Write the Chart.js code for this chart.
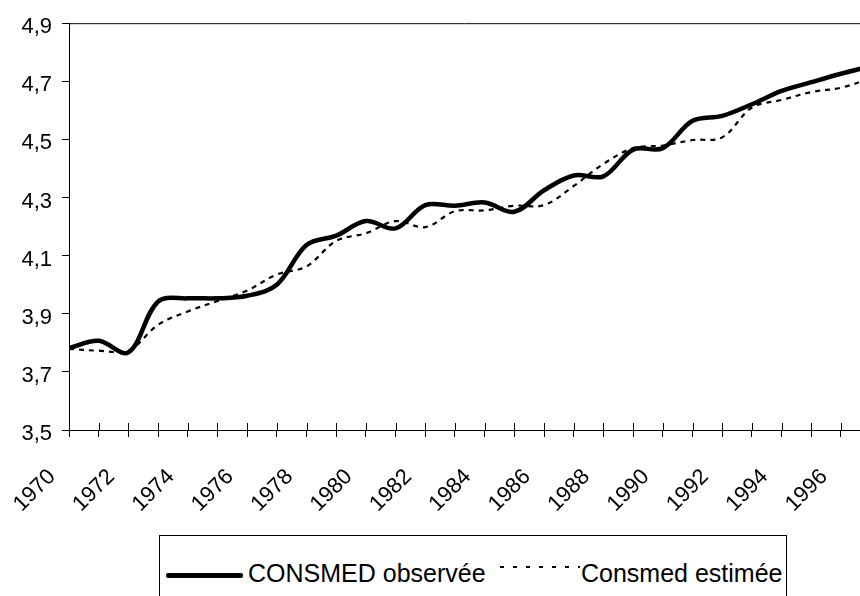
<!DOCTYPE html>
<html>
<head>
<meta charset="utf-8">
<script src="https://cdn.jsdelivr.net/npm/chart.js@4/dist/chart.umd.min.js"></script>
<style>
    html, body { margin: 0; padding: 0; background: #fff; overflow: hidden; }
    #wrap { position: relative; width: 860px; height: 596px; }
    #legend {
        position: absolute; left: 159px; top: 535px; width: 628px; height: 100px;
        box-sizing: border-box; border: 1px solid #000; background: #fff;
        font-family: 'Liberation Sans', Arial, sans-serif; font-size: 25px; color: #000;
    }
    #legend .txt { position: absolute; top: 23px; white-space: nowrap; }
    #legend .solid { position: absolute; left: 6px; top: 37px; width: 77px; height: 5px; background: #000; border-radius: 2px; }
    #legend .dash {
        position: absolute; left: 340px; top: 30px; width: 80px; height: 2px;
        background: repeating-linear-gradient(90deg, #000 0 4px, transparent 4px 13px);
    }
</style>
</head>
<body>
<div id="wrap">
    <canvas id="chart" width="860" height="596"></canvas>
    <div id="legend">
        <div class="solid"></div>
        <div class="txt" style="left: 88px;">CONSMED observée</div>
        <div class="dash"></div>
        <div class="txt" style="left: 421px;">Consmed estimée</div>
    </div>
</div>
<script>
// Years shown on the category axis (last year partly outside the plot)
const years = [1970, 1971, 1972, 1973, 1974, 1975, 1976, 1977, 1978, 1979,
               1980, 1981, 1982, 1983, 1984, 1985, 1986, 1987, 1988, 1989,
               1990, 1991, 1992, 1993, 1994, 1995, 1996, 1997];

// CONSMED observée
const observed = [3.782, 3.807, 3.767, 3.942, 3.953, 3.953, 3.962, 4.000, 4.137, 4.169,
                  4.219, 4.194, 4.274, 4.272, 4.283, 4.251, 4.325, 4.376, 4.373, 4.465,
                  4.470, 4.564, 4.581, 4.621, 4.667, 4.697, 4.726, 4.752];

// Consmed estimée
const estimated = [3.779, 3.773, 3.773, 3.862, 3.908, 3.944, 3.980, 4.035, 4.063, 4.151,
                   4.177, 4.219, 4.198, 4.253, 4.256, 4.272, 4.274, 4.340, 4.416, 4.470,
                   4.479, 4.498, 4.507, 4.610, 4.636, 4.663, 4.678, 4.710];

// Axis range and ticks
const yMin = 3.5;
const yMax = 4.9;
const yStep = 0.2;
const xMin = 1970;
const xMax = 1996.64;
const labelEvery = 2;

const FONT = "'Liberation Sans', Arial, sans-serif";

// top frame line + inner half of the crossing x tick marks
const framePlugin = {
    id: 'frame',
    afterDraw(chart) {
        const { ctx, chartArea, scales } = chart;
        ctx.save();
        ctx.strokeStyle = '#000';
        ctx.lineWidth = 1;
        ctx.beginPath();
        ctx.moveTo(chartArea.left, chartArea.top + 0.5);
        ctx.lineTo(chartArea.right, chartArea.top + 0.5);
        scales.x.ticks.forEach(t => {
            const x = Math.round(scales.x.getPixelForValue(t.value)) + 0.5;
            ctx.moveTo(x, chartArea.bottom);
            ctx.lineTo(x, chartArea.bottom - 7);
        });
        ctx.stroke();
        ctx.restore();
    }
};

new Chart(document.getElementById('chart'), {
    type: 'line',
    data: {
        datasets: [
            {
                label: 'CONSMED observée',
                data: years.map((y, i) => ({ x: y, y: observed[i] })),
                borderColor: '#000',
                borderWidth: 4.5,
                pointRadius: 0,
                tension: 0.35,
                fill: false
            },
            {
                label: 'Consmed estimée',
                data: years.map((y, i) => ({ x: y, y: estimated[i] })),
                borderColor: '#000',
                borderWidth: 2.2,
                borderDash: [5, 5],
                pointRadius: 0,
                tension: 0.35,
                fill: false
            }
        ]
    },
    options: {
        responsive: false,
        animation: false,
        layout: { padding: { top: 20, right: 0, bottom: 0, left: 0 } },
        plugins: {
            legend: { display: false },
            tooltip: { enabled: false }
        },
        scales: {
            x: {
                type: 'linear',
                min: xMin,
                max: xMax,
                grid: { drawOnChartArea: false, color: '#000', tickLength: 7, tickWidth: 1 },
                border: { display: true, color: '#000', width: 1 },
                ticks: {
                    stepSize: 1,
                    includeBounds: false,
                    autoSkip: false,
                    minRotation: 45,
                    maxRotation: 45,
                    padding: 27,
                    labelOffset: -17,
                    color: '#000',
                    font: { family: FONT, size: 22 },
                    callback: v => (v % labelEvery === 0 ? String(v) : '')
                },
                afterFit: scale => {
                    scale.height = 166;
                    scale.paddingLeft = 0;
                    scale.paddingRight = 0;
                }
            },
            y: {
                min: yMin,
                max: yMax,
                grid: { drawOnChartArea: false, color: '#000', tickLength: 7, tickWidth: 1 },
                border: { display: true, color: '#000', width: 1 },
                ticks: {
                    stepSize: yStep,
                    padding: 10,
                    labelOffset: 4,
                    color: '#000',
                    font: { family: FONT, size: 22 },
                    callback: v => v.toFixed(1).replace('.', ',')
                },
                afterFit: scale => { scale.width = 69; }
            }
        }
    },
    plugins: [framePlugin]
});
</script>
</body>
</html>
